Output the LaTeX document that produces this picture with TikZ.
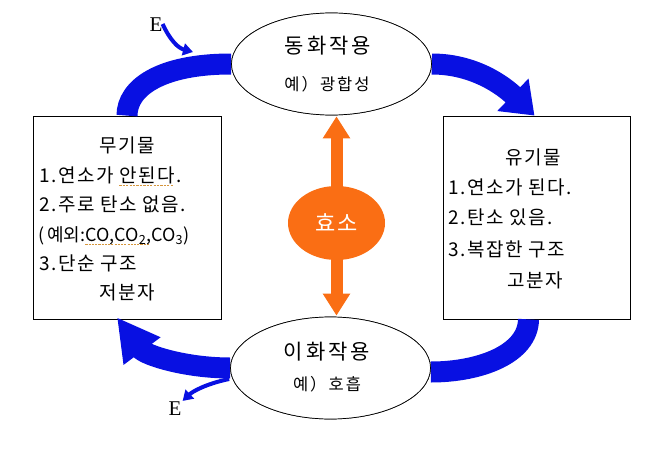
\documentclass[tikz,border=0pt]{standalone}
\usepackage{fontspec}
\setmainfont{Noto Sans CJK KR}[LetterSpace=8]
\newfontfamily\latinserif{Liberation Serif}
\usetikzlibrary{positioning,calc,arrows.meta,shapes.geometric}

\definecolor{flowblue}{RGB}{8,16,226}
\definecolor{enzorange}{RGB}{250,110,20}
\definecolor{spellorange}{RGB}{214,150,60}
\newlength\spellwd
\newcommand\spellmark[1]{\settowidth\spellwd{#1}\rlap{\textcolor{spellorange}{\raisebox{-3pt}{\leaders\hbox{\rule{0.12em}{0.7pt}\kern0.06em}\hskip\spellwd}}}#1}

\begin{document}
\begin{tikzpicture}
	[   x=1pt,y=-1pt,
		cbox/.style={draw=black,line width=0.8pt,minimum width=#1,minimum height=203pt,inner sep=0pt},
		cell/.style={draw=black,fill=white,ellipse,line width=0.7pt,minimum width=200pt,minimum height=102pt},
		line/.style={anchor=west,inner sep=0pt,font=\fontsize{19}{19}\selectfont},
		head/.style={inner sep=0pt,font=\fontsize{19}{19}\selectfont},
		big/.style={inner sep=0pt,font=\fontsize{21}{21}\selectfont\addfontfeatures{LetterSpace=14}},
		small/.style={inner sep=0pt,font=\fontsize{16.5}{16.5}\selectfont\addfontfeatures{LetterSpace=12}},
		enode/.style={inner sep=0pt,font=\latinserif\fontsize{21}{21}\selectfont},
	]
	\tikzset{flow/.style={draw=flowblue,line width=21pt},
		flow arrow/.style={flow,-{Triangle[length=#1,width=43pt]}},
		small arrow/.style={draw=flowblue,line width=4pt,-{Triangle[length=10pt,width=12pt]}}}
	\useasboundingbox (0,0) rectangle (672,463);

	\node[cbox=188pt] (inorg) at (127,217.5) {};
	\node[cbox=187pt] (org) at (536.5,217.5) {};

	\node[cell] (anab) at (331.5,64) {};
	\node[cell] (catab) at (330.5,368) {};

	\path[flow] (anab.west) .. controls (160,64) and (127,88) .. (inorg.north);
	\path[flow arrow=30pt] (anab.east) .. controls (480,64) and (510,92) .. ($(org.north)+(-2,0)$);
	\path[flow] ($(org.south)+(-8,0)$) .. controls (528,354) and (480,372) .. ($(catab.east)+(0,4)$);
	\path[flow arrow=42pt] (catab.west) .. controls (185,368) and (145,355) .. ($(inorg.south)+(-10,-2)$);

	\node[cell] at (anab) {};
	\node[cell] at (catab) {};

	\node[enode] (e-1) at (156,25) {E};
	\node[enode] (e-2) at (175,409) {E};
	\coordinate (e-1-tip) at (193,52);
	\path[small arrow] ($(e-1.east)+(0,-1)$) .. controls (170,40) and (178,48) .. (e-1-tip);
	\path[small arrow] ($(catab.west)+(-1,11)$) .. controls (205,384) and (192,392) .. ($(e-2.north east)+(1,-1)$);

	\path[draw=enzorange,line width=12pt,{Triangle[length=22pt,width=26pt]}-{Triangle[length=22pt,width=26pt]}] (anab.south) ++(5,1) -- ($(catab.north)+(6,-1)$);
	\node[ellipse,fill=enzorange,minimum width=97pt,minimum height=74pt,text=white,font=\fontsize{22}{22}\selectfont] (enz) at (336.5,223) {효소};

	\node[big] at (328,46) {동화작용};
	\node[small] at (327,84) {예）광합성};
	\node[big] at (327,352) {이화작용};
	\node[small] at (327,384) {예）호흡};

	\node[head] at (127,145) {무기물};
	\node[line] at (39,176) {1.연소가 \spellmark{안된다}.};
	\node[line] at (39,204) {2.주로 탄소 없음.};
	\node[line,font=\fontsize{18}{18}\selectfont\addfontfeatures{LetterSpace=0}] at (38,236) {(\,예외:\spellmark{CO,CO\textsubscript{2},}CO\textsubscript{3})};
	\node[line] at (39,263) {3.단순 구조};
	\node[head] at (127,292) {저분자};

	\node[head] at (533,157) {유기물};
	\node[line] at (448,187) {1.연소가 된다.};
	\node[line] at (448,217) {2.탄소 있음.};
	\node[line] at (448,249) {3.복잡한 구조};
	\node[head] at (535,280) {고분자};
\end{tikzpicture}
\end{document}
